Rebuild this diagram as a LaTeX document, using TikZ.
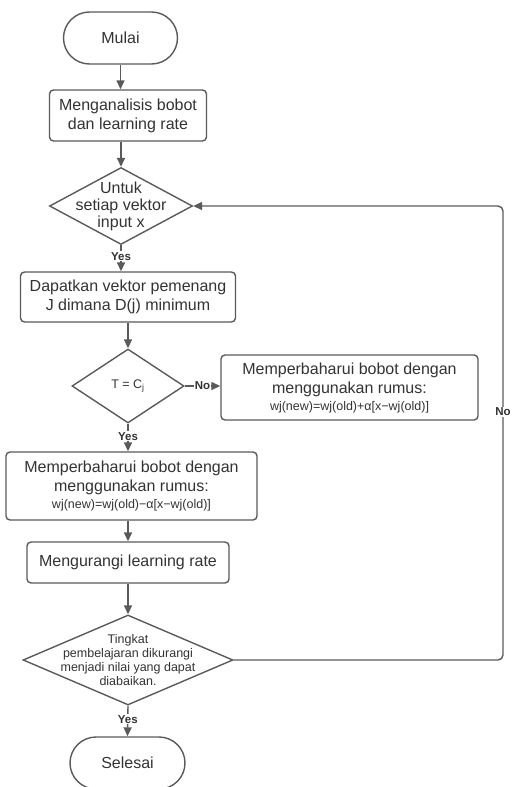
\documentclass[tikz,border=0pt]{standalone}
\usepackage{fontspec}
\setmainfont{Liberation Sans}
\usetikzlibrary{shapes.geometric,shapes.misc,arrows.meta}

\definecolor{garis}{HTML}{5A5A5A}
\definecolor{tulisan}{HTML}{333333}

\tikzset{
  proses/.style={draw=garis,line width=1.4pt,rounded corners=4pt,fill=white,
    align=center,text=tulisan,font=\fontsize{16}{19}\selectfont,inner sep=0pt},
  terminal/.style={draw=garis,line width=1.4pt,shape=rounded rectangle,fill=white,
    text=tulisan,font=\fontsize{16}{19}\selectfont,inner sep=0pt},
  keputusan/.style={draw=garis,line width=1.4pt,shape=diamond,fill=white,inner sep=0pt},
  isi/.style={align=center,text=tulisan},
  panah/.style={draw=garis,line width=1.4pt,-{Triangle[length=9pt,width=8pt]}},
  jawab/.style={fill=white,text=tulisan,inner sep=1pt,font=\fontsize{11.5}{13}\selectfont\bfseries}
}

\begin{document}
\begin{tikzpicture}[x=1pt,y=-1pt]
\useasboundingbox (0,0) rectangle (512,787);

% langkah-langkah
\node[terminal,minimum width=114pt,minimum height=52pt] (mulai) at (120.5,38) {Mulai};
\node[proses,minimum width=157pt,minimum height=51pt] (analisis) at (128,115.5)
  {Menganalisis bobot\\dan learning rate};
\node[keputusan,minimum width=143pt,minimum height=77pt,
  label={[isi,font=\fontsize{16}{17}\selectfont]center:Untuk\\setiap vektor\\input x}] (untuk) at (121,206) {};
\node[proses,minimum width=215pt,minimum height=50pt] (dapatkan) at (128,297)
  {Dapatkan vektor pemenang\\J dimana D(j) minimum};
\node[keputusan,minimum width=112pt,minimum height=74pt,
  label={[isi,font=\fontsize{12.5}{14}\selectfont]center:T = C$_\mathrm{j}$}] (sama) at (128,386) {};
\node[proses,minimum width=257pt,minimum height=65pt] (tambah) at (349.5,387.5)
  {Memperbaharui bobot dengan\\menggunakan rumus:\\[-2pt]
   {\fontsize{12.5}{14}\selectfont wj(new)=wj(old)+α[x−wj(old)]}};
\node[proses,minimum width=251pt,minimum height=68pt] (kurang) at (131.5,486)
  {Memperbaharui bobot dengan\\menggunakan rumus:\\[-2pt]
   {\fontsize{12.5}{14}\selectfont wj(new)=wj(old)−α[x−wj(old)]}};
\node[proses,minimum width=202pt,minimum height=41pt] (rate) at (128,562.5)
  {Mengurangi learning rate};
\node[keputusan,minimum width=210pt,minimum height=90pt,
  label={[isi,font=\fontsize{12.5}{14}\selectfont]center:Tingkat\\pembelajaran dikurangi\\menjadi nilai yang dapat\\diabaikan.}] (tingkat) at (128,660) {};
\node[terminal,minimum width=115pt,minimum height=52pt] (selesai) at (127.5,763) {Selesai};
\coordinate (balik) at (503,412);

% panah
\draw[panah] (mulai.south) -- (mulai.south |- analisis.north);
\draw[panah] (untuk.north |- analisis.south) -- (untuk.north);
\draw[panah] (untuk.south) -- node[jawab,pos=0.42] {Yes} (untuk.south |- dapatkan.north);
\draw[panah] (sama.north |- dapatkan.south) -- (sama.north);
\draw[panah] (sama.east) -- node[jawab,pos=0.5] {No} (sama.east -| tambah.west);
\draw[panah] (sama.south) -- node[jawab,pos=0.45] {Yes} (sama.south |- kurang.north);
\draw[panah] (rate.north |- kurang.south) -- (rate.north);
\draw[panah] (rate.south) -- (tingkat.north);
\draw[panah] (tingkat.south) -- node[jawab,pos=0.45] {Yes} (selesai.north);
\draw[panah,rounded corners=5pt] (tingkat.east) -| (balik) |- (untuk.east);
\node[jawab] at (balik) {No};

\end{tikzpicture}
\end{document}
